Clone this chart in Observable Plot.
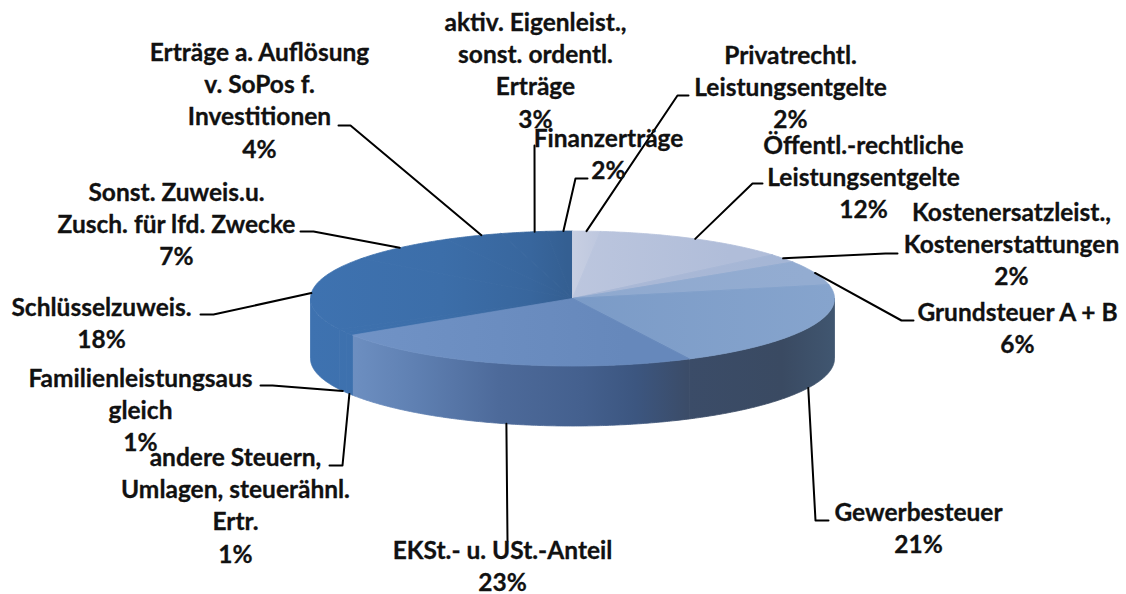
<!DOCTYPE html>
<html lang="de">
<head>
<meta charset="utf-8">
<script src="https://cdn.jsdelivr.net/npm/d3@7"></script>
<script src="https://cdn.jsdelivr.net/npm/@observablehq/plot@0.6"></script>
<style>
html,body{margin:0;padding:0;background:#fff}
svg{display:block}
</style>
</head>
<body>
<div id="chart"></div>
<script>
// Data, clockwise from 12 o'clock
const categories = ["Privatrechtl.\nLeistungsentgelte","Öffentl.-rechtliche\nLeistungsentgelte","Kostenersatzleist.,\nKostenerstattungen","Grundsteuer A + B","Gewerbesteuer","EKSt.- u. USt.-Anteil","andere Steuern,\nUmlagen, steuerähnl.\nErtr.","Familienleistungsaus\ngleich","Schlüsselzuweis.","Sonst. Zuweis.u.\nZusch. für lfd. Zwecke","Erträge a. Auflösung\nv. SoPos f.\nInvestitionen","aktiv. Eigenleist.,\nsonst. ordentl.\nErträge","Finanzerträge"];
const shares = [1.7,12.1,2.1,5.8,20.9,23.2,0.7,0.9,17.6,6.9,3.6,2.8,1.6];

// Layout: label block centre x and first-line centre y, leader elbow and leader end
const labelX = [790,863,1011,1017,918,502,235,140,101,176,259,535,608];
const labelY = [55,145,212,312,512,550,457,378,307,192,52,22,138];
const elbowX = [677,752,885,901,815,507,342,272,213,313,350,534,575];
const elbowY = [95,183,253,320,520,540,465,385,314,231,125,145,178];
const endX   = [688,762,897,913,828,507,329,260,200,300,338,534,587];
const endY   = [95,183,253,320,520,540,465,385,314,231,125,145,178];
// Leader start, in degrees away from the slice's middle
const leaderShift = [0,0,0,0,0,-0.7,0,0,0,0,2,2.5,0.9];

// Colour ids per slice (gradients defined below)
const topFill = ["url(#t0)","url(#t1)","url(#t2)","url(#t3)","url(#t4)","url(#t5)","url(#dk)","url(#dk)","url(#dk)","url(#dk)","url(#dk)","url(#dk)","url(#dk)"];

const cx = 572, cy = 298, rx = 262, ry = 67.5, depth = 60;
const at = (deg, drop = 0) => {
  const a = deg * Math.PI / 180;
  return {x: cx + rx * Math.sin(a), y: cy - ry * Math.cos(a) + drop};
};
const total = d3.sum(shares);
let run = 0;
const slices = shares.map((s, i) => {
  const a0 = run / total * 360; run += s; const a1 = run / total * 360;
  return {i, a0, a1, mid: (a0 + a1) / 2};
});
const arc = (a0, a1, drop = 0) => {
  const n = Math.max(2, Math.ceil(a1 - a0) * 2);
  return d3.range(n + 1).map(k => at(a0 + (a1 - a0) * k / n, drop));
};
const closed = pts => [...pts, pts[0], pts[1]];

const wallMarks = slices
  .filter(s => s.a1 > 90 && s.a0 < 270)
  .map(s => {
    const a0 = Math.max(90, s.a0), a1 = Math.min(270, s.a1);
    const pts = [...arc(a0, a1, 0), ...arc(a0, a1, depth).reverse()];
    const fill = s.i >= 6 ? "url(#dk)" : "url(#wall)";
    return Plot.line(closed(pts), {x: "x", y: "y", fill, stroke: fill, strokeWidth: 0.8});
  });

const topMarks = slices.slice().sort((a, b) => (b.i >= 6) - (a.i >= 6)).map(s => {
  const pts = [{x: cx, y: cy}, ...arc(s.a0, s.a1)];
  return Plot.line(closed(pts), {x: "x", y: "y", fill: topFill[s.i], stroke: topFill[s.i], strokeWidth: 0.8});
});

const leaders = slices.flatMap(s => {
  const front = s.mid > 90 && s.mid < 270;
  const p = at(s.mid + leaderShift[s.i], front ? depth : 0);
  return [
    {k: s.i, x: p.x, y: p.y},
    {k: s.i, x: elbowX[s.i], y: elbowY[s.i]},
    {k: s.i, x: endX[s.i], y: endY[s.i]}
  ];
});

const labels = categories.map((c, i) => ({
  x: labelX[i], y: labelY[i] - 14,
  text: c + "\n" + Math.round(shares[i]) + "%"
}));

const gradient = (defs, id, stops) => {
  const g = defs.append("linearGradient").attr("id", id)
    .attr("gradientUnits", "userSpaceOnUse")
    .attr("x1", 310).attr("x2", 834).attr("y1", 0).attr("y2", 0);
  stops.forEach(([o, c]) => g.append("stop").attr("offset", o).attr("stop-color", c));
};
const defsMark = () => {
  const g = d3.create("svg:g");
  const defs = g.append("defs");
  gradient(defs, "dk",  [[0,"#3e72b0"],[0.25,"#3c6ea9"],[0.42,"#38669d"],[0.49,"#345f92"],[0.5,"#345f92"]]);
  gradient(defs, "wall",[[0.07,"#6e90c2"],[0.2,"#5f80b2"],[0.36,"#4d6a9a"],[0.52,"#44608e"],[0.62,"#3c5680"],[0.72,"#3b4c68"],[0.9,"#3a4a62"],[1,"#405670"]]);
  gradient(defs, "t0",  [[0.5,"#c8cfe2"],[0.56,"#bcc6de"]]);
  gradient(defs, "t1",  [[0.5,"#bcc6de"],[0.8,"#b0bdd9"]]);
  gradient(defs, "t2",  [[0.7,"#a9b8d6"],[0.95,"#a3b5d5"]]);
  gradient(defs, "t3",  [[0.5,"#8fa9cf"],[0.95,"#93acd1"]]);
  gradient(defs, "t4",  [[0.5,"#7b9bc7"],[1,"#86a4cd"]]);
  gradient(defs, "t5",  [[0.07,"#7193c6"],[0.6,"#6688bb"]]);
  return g.node();
};

const chart = Plot.plot({
  width: 1126, height: 594, margin: 0,
  style: {background: "#fff", overflow: "visible"},
  x: {domain: [0, 1126], axis: null},
  y: {domain: [594, 0], axis: null},
  marks: [
    defsMark,
    ...wallMarks,
    ...topMarks,
    Plot.line(leaders, {x: "x", y: "y", z: "k", stroke: "#000", strokeWidth: 2}),
    Plot.text(labels, {
      x: "x", y: "y", text: "text", lineAnchor: "top", textAnchor: "middle",
      lineHeight: 1.31, fontSize: 24.5, fontWeight: 700,
      fontFamily: "Lato", fill: "#111", stroke: "#111", strokeWidth: 0.3
    })
  ]
});
document.getElementById("chart").append(chart);
</script>
</body>
</html>
